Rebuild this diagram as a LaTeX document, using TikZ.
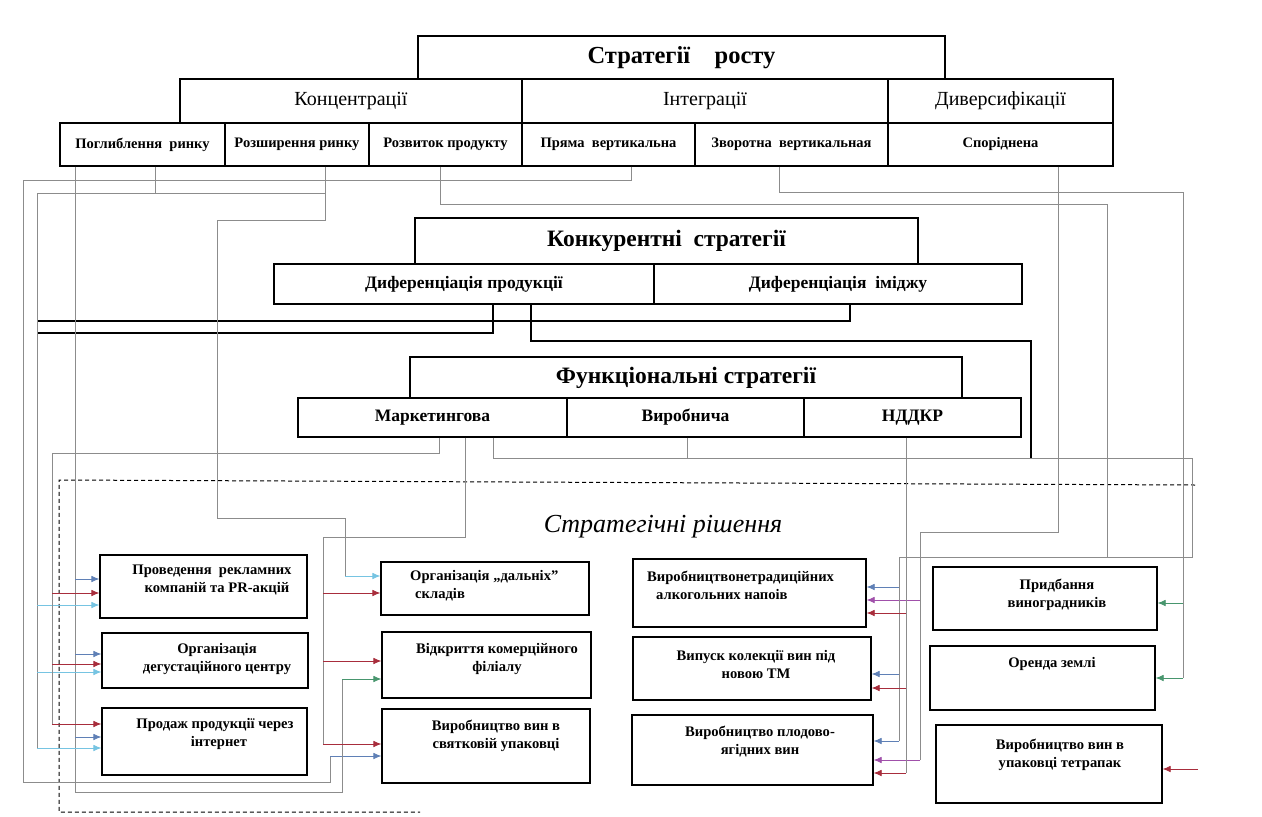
\documentclass[tikz,border=0pt]{standalone}
\usepackage{fontspec}
\setmainfont{Liberation Serif}
\usetikzlibrary{arrows.meta}
\definecolor{gline}{RGB}{140,140,140}
\definecolor{cred}{RGB}{168,45,60}
\definecolor{cblue}{RGB}{95,128,182}
\definecolor{clblue}{RGB}{118,196,226}
\definecolor{cpurple}{RGB}{160,80,170}
\definecolor{cgreen}{RGB}{72,150,110}
\newcommand\mybox[7]{\node[box,#6,minimum width={#4pt-#2pt},minimum height={#5pt-#3pt}] (#1) at ({(#2+#4)/2},{(#3+#5)/2}) {#7};}
\tikzset{
  box/.style={draw,line width=1.2pt,inner sep=0pt,align=center},
  tA/.style={font=\fontsize{24.5}{28}\selectfont\bfseries},
  tA2/.style={font=\fontsize{23.5}{27}\selectfont\bfseries},
  tB/.style={font=\fontsize{20}{24}\selectfont},
  tC/.style={font=\fontsize{14.5}{16}\selectfont\bfseries},
  tD/.style={font=\fontsize{17.5}{20}\selectfont\bfseries},
  tx/.style={inner sep=0pt,align=center,font=\fontsize{14.6}{18}\selectfont\bfseries},
  gl/.style={draw=gline,line width=0.7pt},
  thick line/.style={draw=black,line width=1.2pt},
  arr/.style={line width=0.7pt,-{Latex[length=8pt,width=6.5pt]}},
  ared/.style={arr,draw=cred},
  ablue/.style={arr,draw=cblue},
  alblue/.style={arr,draw=clblue},
  apurple/.style={arr,draw=cpurple},
  agreen/.style={arr,draw=cgreen},
}
\begin{document}
\begin{tikzpicture}[x=1pt,y=-1pt]
\useasboundingbox[fill=white] (0,0) rectangle (1262,817);
% ---- Growth strategies
\mybox{root}{418}{36}{945}{79}{tA}{Стратегії\quad росту}
\mybox{konc}{180}{79}{522}{123}{tB}{Концентрації}
\mybox{integ}{522}{79}{888}{123}{tB}{Інтеграції}
\mybox{divers}{888}{79}{1113}{123}{tB}{Диверсифікації}
\mybox{pog}{60}{123}{225}{166}{tC}{Поглиблення\ \ ринку}
\mybox{rozsh}{225}{123}{369}{166}{tC}{Розширення ринку}
\mybox{rozv}{369}{123}{522}{166}{tC}{Розвиток продукту}
\mybox{pryama}{522}{123}{695}{166}{tC}{Пряма\ \ вертикальна}
\mybox{zvor}{695}{123}{888}{166}{tC}{Зворотна\ \ вертикальная}
\mybox{spor}{888}{123}{1113}{166}{tC}{Споріднена}
% ---- Competitive
\mybox{konk}{415}{218}{918}{264}{tA2}{Конкурентні\ \ стратегії}
\mybox{difprod}{274}{264}{654}{304}{tD}{Диференціація продукції}
\mybox{difim}{654}{264}{1022}{304}{tD}{Диференціація\ \ іміджу}
% ---- Functional
\mybox{func}{410}{357}{962}{398}{tA2}{Функціональні стратегії}
\mybox{mark}{298}{398}{567}{437}{tD}{Маркетингова}
\mybox{vyrob}{567}{398}{804}{437}{tD}{Виробнича}
\mybox{nddkr}{804}{398}{1021}{437}{tD}{НДДКР}
% ---- Strategic decisions
\draw[line width=1pt,dash pattern=on 4pt off 3pt] (1195,485) -- (59,480) -- (59,812) -- (420,812);
\node[font=\fontsize{26}{29}\selectfont\itshape] (sr) at (663,527) {Стратегічні рішення};
\mybox{prov}{100}{555}{307}{618}{}{}
\mybox{degus}{102}{633}{308}{688}{}{}
\mybox{prodazh}{102}{708}{307}{775}{}{}
\mybox{dalni}{381}{562}{589}{615}{}{}
\mybox{vidkr}{382}{632}{591}{698}{}{}
\mybox{svyat}{382}{709}{590}{783}{}{}
\mybox{netrad}{633}{559}{866}{627}{}{}
\mybox{vypusk}{633}{637}{871}{700}{}{}
\mybox{plodovo}{632}{715}{873}{785}{}{}
\mybox{prydb}{933}{567}{1157}{630}{}{}
\mybox{orenda}{930}{646}{1155}{710}{}{}
\mybox{tetra}{936}{725}{1162}{803}{}{}
\node[tx] (prov-t) at (212,580) {Проведення\ \ рекламних\\\hspace*{10pt}компаній та PR-акцій};
\node[tx] (degus-t) at (217,659) {Організація\\дегустаційного центру};
\node[tx] (prodazh-t) at (215,734) {Продаж продукції через\\\hspace*{8pt}інтернет};
\node[tx,align=left,anchor=west] (dalni-t) at (410,586) {Організація „дальніх”\\\hspace*{5pt}складів};
\node[tx] (vidkr-t) at (497,659) {Відкриття комерційного\\філіалу};
\node[tx] (svyat-t) at (496,736) {Виробництво вин в\\святковій упаковці};
\node[tx,align=left,anchor=west] (netrad-t) at (647,585) {Виробництвонетрадиційних\\\hspace*{9pt}алкогольних напоів};
\node[tx] (vypusk-t) at (756,664) {Випуск колекції вин під\\новою ТМ};
\node[tx] (plodovo-t) at (760,742) {Виробництво плодово-\\ягідних вин};
\node[tx] (prydb-t) at (1057,595) {Придбання\\виноградників};
\node[tx] (orenda-t) at (1052,664) {Оренда землі};
\node[tx] (tetra-t) at (1060,755) {Виробництво вин в\\упаковці тетрапак};
% ---- thick black connectors
\draw[thick line] (difim.south -| 850,0) -- (850,321) -- (37,321);
\draw[thick line] (difprod.south -| 493,0) -- (493,333) -- (37,333);
\draw[thick line] (difprod.south -| 531,0) -- (531,341) -- (1031,341) -- (1031,458);
% ---- Пряма вертикальна -> святкова упаковка
\draw[gl] (pryama.south -| 631,0) -- (631,180) -- (23,180) -- (23,782) -- (330,782) -- (330,756);
\draw[ablue] (330,756) -- (svyat.west |- 0,756);
% ---- Поглиблення ринку
\draw[gl] (pog.south -| 75,0) -- (75,792) -- (342,792) -- (342,679);
\draw[agreen] (342,679) -- (vidkr.west |- 0,679);
\draw[ablue] (75,579) -- (prov.west |- 0,579);
\draw[ablue] (75,654) -- (degus.west |- 0,654);
\draw[ablue] (75,737) -- (prodazh.west |- 0,737);
\draw[gl] (pog.south -| 155,0) -- (155,193);
% ---- Розширення ринку
\draw[gl] (rozsh.south -| 325,0) -- (325,220) -- (217,220) -- (217,518) -- (345,518) -- (345,576);
\draw[alblue] (345,576) -- (dalni.west |- 0,576);
\draw[gl] (325,193) -- (37,193) -- (37,748);
\draw[alblue] (37,605) -- (prov.west |- 0,605);
\draw[alblue] (37,672) -- (degus.west |- 0,672);
\draw[alblue] (37,748) -- (prodazh.west |- 0,748);
% ---- Розвиток продукту
\draw[gl] (rozv.south -| 440,0) -- (440,204) -- (1107,204) -- (1107,557);
% ---- Зворотна вертикальна
\draw[gl] (zvor.south -| 779,0) -- (779,192) -- (1183,192) -- (1183,678);
\draw[agreen] (1183,603) -- (prydb.east |- 0,603);
\draw[agreen] (1183,678) -- (orenda.east |- 0,678);
% ---- Споріднена
\draw[gl] (spor.south -| 1058,0) -- (1058,532) -- (920,532) -- (920,760);
\draw[apurple] (920,600) -- (netrad.east |- 0,600);
\draw[apurple] (920,760) -- (plodovo.east |- 0,760);
% ---- Маркетингова
\draw[gl] (mark.south -| 439,0) -- (439,453) -- (52,453) -- (52,724);
\draw[ared] (52,593) -- (prov.west |- 0,593);
\draw[ared] (52,664) -- (degus.west |- 0,664);
\draw[ared] (52,724) -- (prodazh.west |- 0,724);
\draw[gl] (mark.south -| 465,0) -- (465,537) -- (323,537) -- (323,744);
\draw[ared] (323,593) -- (dalni.west |- 0,593);
\draw[ared] (323,661) -- (vidkr.west |- 0,661);
\draw[ared] (323,744) -- (svyat.west |- 0,744);
\draw[gl] (mark.south -| 493,0) -- (493,458) -- (1192,458) -- (1192,557) -- (899,557) -- (899,741);
\draw[ablue] (899,587) -- (netrad.east |- 0,587);
\draw[ablue] (899,674) -- (vypusk.east |- 0,674);
\draw[ablue] (899,741) -- (plodovo.east |- 0,741);
% ---- Виробнича
\draw[gl] (vyrob.south -| 687,0) -- (687,458);
% ---- НДДКР
\draw[gl] (nddkr.south -| 906,0) -- (906,773);
\draw[ared] (906,613) -- (netrad.east |- 0,613);
\draw[ared] (906,688) -- (vypusk.east |- 0,688);
\draw[ared] (906,773) -- (plodovo.east |- 0,773);
% ---- тетрапак
\coordinate (tfree) at (1198,769);
\draw[ared] (tfree) -- (tetra.east |- 0,769);
\end{tikzpicture}
\end{document}
